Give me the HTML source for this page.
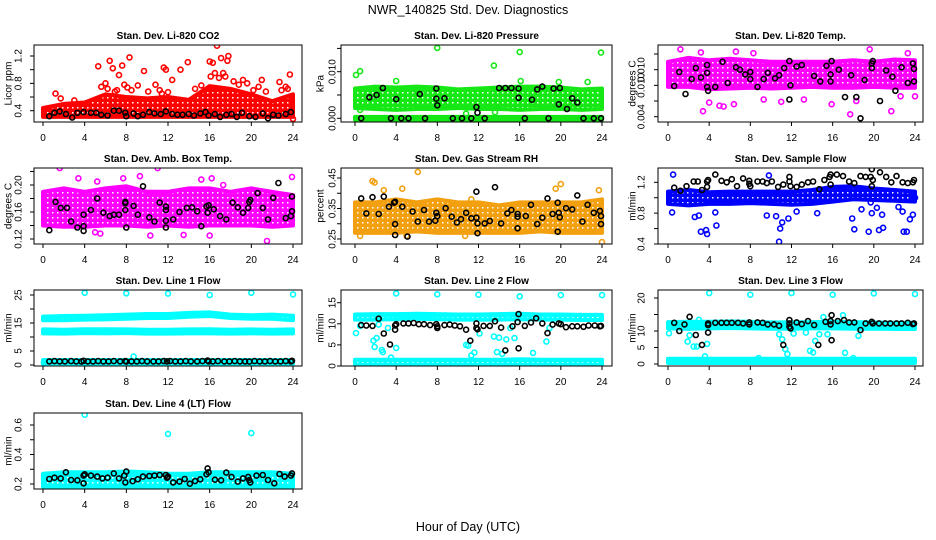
<!DOCTYPE html>
<html><head><meta charset="utf-8"><style>
html,body{margin:0;padding:0;background:#fff;}
svg{display:block;font-family:"Liberation Sans",sans-serif;}
</style></head><body>
<svg id="chart" width="936" height="540" viewBox="0 0 936 540" xmlns="http://www.w3.org/2000/svg">
<defs id="defs"></defs>
<text x="468" y="14" text-anchor="middle" font-size="12.5">NWR_140825  Std. Dev. Diagnostics</text>
<text x="468" y="531" text-anchor="middle" font-size="12.5">Hour of Day (UTC)</text>
</svg>
<script>
const bandHours = [0,2,4,6,8,10,12,14,16,18,20,22,24];
const xTicks = [0,4,8,12,16,20,24];

// CO2
const co2Lo = [0.31,0.31,0.31,0.31,0.31,0.31,0.31,0.31,0.31,0.31,0.31,0.31,0.31];
const co2Hi = [0.44,0.5,0.52,0.64,0.6,0.58,0.6,0.56,0.76,0.72,0.64,0.54,0.64];
const co2OutT = [1.2,1.7,3.0,4.2,5.3,6.0,6.4,6.7,7.3,7.6,8.3,9.7,10.8,11.6,11.8,12.4,13.2,13.9,16.0,16.3,16.5,16.7,17.1,17.3,17.7,17.8,19.2,21.0,22.7,23.7,24.0,5.6,6.2,6.9,7.1,7.8,8.1,8.5,9.1,10.1,11.2,11.4,12.0,14.6,15.2,16.1,16.9,17.5,18.3,18.8,19.6,20.2,20.7,21.4,22.9,23.3,23.5];
const co2OutV = [0.65,0.58,0.55,0.5,1.05,0.8,1.13,1.02,0.92,1.06,1.18,0.98,0.78,1.03,1.0,0.85,1.0,1.11,1.12,1.1,0.95,1.35,1.17,0.95,1.13,1.2,0.85,0.85,0.82,0.93,0.28,0.75,0.72,0.68,0.7,0.78,0.74,0.7,0.77,0.68,0.7,0.65,0.67,0.72,0.77,0.9,0.88,0.9,0.83,0.78,0.8,0.7,0.75,0.68,0.7,0.75,0.72];
const co2BlkT = [0.6,1.1,1.6,2.2,2.8,3.3,3.9,4.6,5.1,5.6,6.2,6.8,7.3,7.9,8.0,8.7,9.1,9.6,10.2,10.7,11.3,11.8,12.4,12.9,13.4,14.0,14.5,15.1,15.6,15.9,16.5,17.0,17.6,18.1,18.6,19.1,19.8,20.4,21.1,21.6,22.1,22.6,23.3,23.8];
const co2BlkV = [0.32,0.37,0.39,0.35,0.3,0.37,0.38,0.37,0.37,0.34,0.33,0.4,0.4,0.37,0.32,0.36,0.32,0.34,0.38,0.36,0.35,0.39,0.35,0.34,0.34,0.35,0.33,0.36,0.38,0.33,0.35,0.31,0.34,0.35,0.31,0.37,0.32,0.31,0.36,0.29,0.34,0.33,0.35,0.38];
const co2YTicks = [0.4,0.6,0.8,1.0,1.2];
const co2YLabels = ['0.4','','0.8','','1.2'];

// Pressure
const presLo = [0.0022,0.002,0.0018,0.002,0.002,0.0022,0.002,0.002,0.0018,0.002,0.002,0.0018,0.002];
const presHi = [0.0064,0.0068,0.0066,0.0068,0.0066,0.0062,0.0064,0.0066,0.0068,0.0068,0.0066,0.0062,0.0064];
const presZeroLo = [-0.0003,-0.0003,-0.0003,-0.0003,-0.0003,-0.0003,-0.0003,-0.0003,-0.0003,-0.0003,-0.0003,-0.0003,-0.0003];
const presZeroHi = [0.0003,0.0003,0.0003,0.0003,0.0003,0.0003,0.0003,0.0003,0.0003,0.0003,0.0003,0.0003,0.0003];
const presOutT = [0.1,0.5,4.0,8.0,13.5,16.0,23.9,16.1,19.8,22.6,0.5,10.8,13.6];
const presOutV = [0.0093,0.0101,0.008,0.0151,0.0113,0.0142,0.0141,0.008,0.0078,0.0078,0.0018,0.001,0.0013];
const presBlkT = [0.6,1.4,2.1,2.7,3.5,4.0,4.5,5.2,6.3,6.8,7.9,7.9,8.0,8.7,9.5,10.4,11.3,11.9,11.8,12.6,14.0,14.6,15.2,15.9,15.9,16.5,17.2,17.7,18.2,18.8,19.3,19.8,19.9,20.6,21.1,21.6,22.2,23.2,23.9];
const presBlkV = [0,0.0045,0.005,0.0065,0,0.0041,0,0,0.0052,0,0.0064,0.0042,0.0028,0.0043,0,0,0,0.0012,0.0024,0,0.0065,0.0065,0.0065,0.0044,0.0064,0,0.004,0.0062,0.0068,0,0.0064,0.003,0.0065,0.002,0.0043,0.0034,0,0,0];
const presYTicks = [0,0.005,0.01,0.015];
const presYLabels = ['0.000','','0.010',''];

// Li-820 Temp
const ltLo = [0.0078,0.0078,0.0075,0.0076,0.0077,0.0076,0.0077,0.0078,0.0077,0.0077,0.0078,0.0077,0.0077];
const ltHi = [0.011,0.0115,0.0112,0.0114,0.0112,0.011,0.011,0.011,0.011,0.0112,0.011,0.0113,0.0112];
const ltOutT = [1.2,3.2,3.4,4.0,5.0,5.4,6.4,6.6,8.3,9.3,11.0,13.2,15.9,17.7,18.3,19.6,21.7,22.6,23.3,24.0];
const ltOutV = [0.0126,0.0122,0.0047,0.0058,0.0054,0.0053,0.0056,0.0123,0.0121,0.0062,0.0059,0.0062,0.0056,0.0043,0.006,0.0126,0.0047,0.0066,0.0121,0.0066];
const ltBlkT = [0.6,1.1,1.7,2.3,2.7,3.2,3.8,3.8,3.9,3.8,4.6,5.3,5.8,6.6,7.0,7.5,8.0,8.0,8.7,9.3,9.7,10.4,10.8,11.3,11.8,11.9,11.8,12.5,13.0,14.2,14.8,15.4,15.8,15.8,15.9,16.6,17.2,17.8,18.3,18.7,19.1,19.8,19.9,19.8,20.6,21.2,21.8,22.1,22.7,23.3,23.8,23.9,23.9];
const ltBlkV = [0.0079,0.0097,0.0069,0.0088,0.0102,0.009,0.0096,0.0106,0.0073,0.0078,0.0078,0.011,0.0083,0.0103,0.01,0.0094,0.0097,0.0088,0.0078,0.0088,0.0096,0.0089,0.0093,0.0102,0.0062,0.008,0.0111,0.0104,0.0106,0.0092,0.0085,0.0105,0.0094,0.0085,0.0111,0.01,0.0065,0.0093,0.0065,0.0038,0.0087,0.0102,0.0111,0.0108,0.006,0.0099,0.0091,0.0073,0.0103,0.0083,0.0108,0.0101,0.0085];
const ltYTicks = [0.004,0.006,0.008,0.01,0.012];
const ltYLabels = ['0.004','','0.010','0.010',''];

// Amb box temp
const abLo = [0.14,0.138,0.138,0.14,0.14,0.138,0.14,0.138,0.14,0.14,0.14,0.138,0.14];
const abHi = [0.19,0.195,0.19,0.195,0.198,0.19,0.19,0.195,0.195,0.19,0.195,0.19,0.185];
const abOutT = [1.6,3.4,5.0,5.2,5.5,7.7,9.3,10.3,11.0,13.5,15.2,16.0,16.2,17.3,21.5,23.9];
const abOutV = [0.225,0.21,0.13,0.205,0.128,0.21,0.213,0.125,0.225,0.126,0.208,0.125,0.21,0.2,0.117,0.212];
const abBlkT = [0.6,1.2,1.7,2.3,2.7,3.3,3.9,3.9,3.9,4.6,5.2,5.8,6.4,6.8,7.3,7.9,7.9,7.9,8.0,8.7,9.1,9.6,10.2,10.7,11.2,11.8,11.8,11.8,11.8,12.5,13.1,13.8,14.3,14.8,15.2,15.7,15.8,15.9,16.4,17.0,17.6,18.2,18.7,19.2,19.7,19.8,19.9,20.6,21.1,21.6,22.1,22.6,23.3,23.9,23.9,23.8];
const abBlkV = [0.133,0.175,0.166,0.166,0.146,0.137,0.132,0.156,0.139,0.163,0.18,0.159,0.154,0.156,0.156,0.173,0.175,0.163,0.137,0.169,0.156,0.198,0.152,0.146,0.174,0.168,0.147,0.137,0.163,0.149,0.16,0.166,0.167,0.161,0.139,0.168,0.159,0.17,0.164,0.154,0.149,0.174,0.167,0.159,0.166,0.175,0.178,0.188,0.166,0.149,0.181,0.203,0.151,0.183,0.161,0.154];
const abYTicks = [0.12,0.14,0.16,0.18,0.2,0.22];
const abYLabels = ['0.12','','0.16','','0.20',''];

// Gas stream RH
const rhLo = [0.27,0.27,0.27,0.275,0.27,0.27,0.27,0.27,0.27,0.275,0.27,0.27,0.27];
const rhHi = [0.37,0.37,0.38,0.37,0.38,0.37,0.37,0.36,0.37,0.37,0.37,0.37,0.38];
const rhOutT = [0.5,1.7,1.9,2.8,4.6,5.0,6.1,10.7,11.3,19.5,20.0,23.7,24.0];
const rhOutV = [0.26,0.44,0.435,0.41,0.415,0.26,0.47,0.26,0.38,0.415,0.43,0.41,0.24];
const rhBlkT = [0.6,1.1,1.7,2.3,2.8,3.3,3.8,3.9,3.9,3.9,4.6,5.1,5.6,6.1,6.7,7.2,7.8,7.9,8.0,8.8,9.4,9.9,10.3,10.8,11.3,11.8,11.8,11.9,11.9,12.6,13.1,13.6,14.2,14.8,15.2,15.8,15.8,15.8,16.6,17.1,17.7,18.2,18.7,19.2,19.7,19.7,19.8,19.9,20.5,21.1,21.6,22.1,22.6,23.2,23.8,23.9,23.9];
const rhBlkV = [0.383,0.334,0.387,0.332,0.389,0.356,0.369,0.372,0.299,0.263,0.356,0.258,0.34,0.307,0.345,0.307,0.31,0.336,0.325,0.351,0.323,0.304,0.315,0.336,0.318,0.32,0.405,0.301,0.269,0.301,0.309,0.42,0.301,0.334,0.345,0.323,0.332,0.285,0.325,0.362,0.299,0.32,0.383,0.332,0.274,0.369,0.336,0.321,0.351,0.347,0.393,0.307,0.362,0.336,0.342,0.325,0.299];
const rhYTicks = [0.25,0.3,0.35,0.4,0.45];
const rhYLabels = ['0.25','','0.35','','0.45'];

// Sample flow
const sfLo = [0.92,0.9,0.92,0.92,0.93,0.92,0.91,0.92,0.95,0.98,0.97,0.96,0.95];
const sfHi = [1.08,1.1,1.07,1.08,1.08,1.08,1.08,1.1,1.14,1.15,1.12,1.1,1.08];
const sfOutT = [0.5,0.4,2.6,3.0,3.2,3.7,3.8,4.6,4.7,9.6,9.8,10.5,10.9,10.8,11.1,11.7,12.5,14.5,17.9,18.1,18.8,19.5,19.7,19.8,20.3,20.5,20.9,20.8,22.4,22.8,22.9,23.2,23.5,23.8,24.0];
const sfOutV = [1.3,0.81,0.75,0.77,0.56,0.58,0.53,0.81,0.64,0.77,1.29,0.76,0.6,0.43,0.68,0.73,0.82,0.8,0.73,0.59,0.85,0.56,0.94,0.8,0.87,0.58,0.61,0.78,0.88,0.82,0.56,0.56,0.72,0.78,1.0];
const sfBlkT = [0.6,1.2,1.8,2.5,2.9,3.3,3.8,3.8,3.9,4.6,5.2,5.7,6.2,6.7,7.3,7.9,7.9,8.0,8.7,9.2,9.6,10.1,10.7,11.2,11.8,11.8,11.9,12.5,13.0,13.6,14.1,14.7,15.2,15.7,15.8,15.8,16.4,17.0,17.6,18.1,18.7,19.2,19.7,19.8,19.8,19.9,20.6,21.2,21.7,22.2,22.8,23.3,23.8,23.9];
const sfBlkV = [1.13,1.09,1.15,1.21,1.21,1.1,1.14,1.21,1.23,1.3,1.22,1.2,1.24,1.15,1.25,1.22,1.18,1.15,1.21,1.21,1.19,1.21,1.14,1.17,1.27,1.21,1.15,1.14,1.17,1.2,1.21,1.11,1.23,1.27,1.3,1.17,1.3,1.28,1.21,1.19,1.28,1.27,1.27,1.37,1.15,1.23,1.33,1.27,1.2,1.28,1.2,1.19,1.2,1.23];
const sfYTicks = [0.4,0.6,0.8,1.0,1.2];
const sfYLabels = ['0.4','','0.8','','1.2'];

// Line 1 flow
const l1aLo = [16,16,16.2,16.3,16.5,16.8,16.8,17.2,17.5,16.8,16.5,16.5,16];
const l1aHi = [17.3,17.5,17.6,17.8,18,18.2,18.2,18.6,18.8,18,17.8,18,17.6];
const l1bLo = [11.3,11.2,11.4,11.3,11.4,11.2,11.2,11.3,11.3,11.2,11.3,11.2,11.3];
const l1bHi = [12.7,12.6,12.8,12.8,12.7,12.6,12.6,12.7,12.8,12.6,12.7,12.6,12.7];
const l1cLo = [0.4,0.4,0.4,0.4,0.4,0.4,0.4,0.4,0.4,0.4,0.4,0.4,0.4];
const l1cHi = [1.8,1.8,1.8,1.8,1.8,1.8,1.8,1.8,1.8,1.8,1.8,1.8,1.8];
const l1OutT = [4,8,12,16,20,24,8.7,0.1,11,20.6,22.9];
const l1OutV = [25.8,25.6,25.5,25,25.8,25.2,3,1,0,0.2,0.2];
const l1BlkT = [0.6,1.1,1.6,2.1,2.7,3.2,3.7,3.9,4.3,4.8,5.3,5.8,6.3,6.8,7.4,7.9,8.0,8.5,9.0,9.5,10.0,10.6,11.1,11.6,11.9,12.2,12.7,13.2,13.7,14.2,14.8,15.3,15.8,15.9,16.3,16.8,17.4,17.9,18.4,18.9,19.4,19.8,20.3,20.8,21.3,21.8,22.3,22.8,23.3,23.8,23.9];
const l1BlkV = [1.3,1.4,1.3,1.3,1.4,1.3,1.2,1.5,1.3,1.3,1.4,1.3,1.3,1.4,1.3,1.4,1.2,1.3,1.3,1.4,1.3,1.3,1.3,1.4,1.3,1.4,1.3,1.3,1.4,1.3,1.3,1.4,1.6,1.3,1.3,1.4,1.3,1.3,1.4,1.3,1.3,1.2,1.4,1.3,1.3,1.4,1.3,1.3,1.4,1.3,1.5];
const l1YTicks = [0,5,10,15,20,25];
const l1YLabels = ['0','5','','15','','25'];

// Line 2 flow
const l2aLo = [11,11,11.1,11.2,11.1,11,11,11,11.1,11,11,10.9,10.9];
const l2aHi = [12.2,12.3,12.3,12.4,12.3,12.2,12.2,12.3,12.4,12.2,12.2,12.1,12.1];
const l2bLo = [0.3,0.3,0.3,0.3,0.3,0.3,0.3,0.3,0.3,0.3,0.3,0.3,0.3];
const l2bHi = [1.5,1.5,1.5,1.5,1.5,1.5,1.5,1.5,1.6,1.5,1.5,1.5,1.5];
const l2OutT = [4,8,12,16,20,24,0.1,1.8,1.9,2.1,2.6,2.7,3.5,4.0,10.8,11.0,11.3,11.6,12.1,13.5,13.8,14.0,14.3,14.7,15.5,17.3,18.6,0.5,2.3,3.2,15.1,18.9];
const l2OutV = [17.2,17,16.9,16.5,16.8,16.8,7.8,6,4.5,6.6,3.8,3.3,2,4.3,5,4.8,2.5,3.2,7.7,7,3.3,6.7,2.9,6.3,6.6,3.1,5.8,9.5,9.8,9,9,9];
const l2BlkT = [0.6,1.1,1.7,2.3,2.8,3.4,3.9,3.9,4.0,4.7,5.2,5.7,6.2,6.7,7.3,7.9,8.0,8.0,8.7,9.2,9.7,10.2,10.8,11.2,11.8,11.8,11.9,12.5,13.1,13.6,14.2,14.6,15.3,15.8,15.9,15.9,16.5,17.1,17.6,18.2,18.7,19.2,19.8,20.0,20.5,21.1,21.6,22.2,22.7,23.3,23.8,23.9];
const l2BlkV = [9.7,9.6,9.5,11.2,7.7,5.1,8.6,9.6,9.9,10.1,10.1,10.2,9.9,9.9,9.7,9.9,9.0,9.4,9.7,9.8,9.6,9.4,8.6,6.0,10.1,9.0,8.7,9.5,9.5,10.6,9.1,3.7,9.4,10.4,12.3,4.2,9.5,10.3,11.3,10.1,7.8,9.8,10.1,9.9,9.2,9.4,9.4,9.3,9.6,9.6,9.4,9.5];
const l2YTicks = [0,5,10,15];
const l2YLabels = ['0','5','10','15'];

// Line 3 flow
const l3aLo = [10.8,10.7,10.8,10.9,10.8,10.7,10.7,10.8,10.8,10.7,10.7,10.6,10.6];
const l3aHi = [12.7,12.8,12.8,12.9,12.8,12.6,12.6,12.7,12.8,12.7,12.6,12.5,12.5];
const l3bLo = [0.3,0.3,0.3,0.3,0.3,0.3,0.3,0.3,0.3,0.3,0.3,0.3,0.3];
const l3bHi = [1.6,1.6,1.6,1.6,1.6,1.6,1.6,1.6,1.6,1.6,1.6,1.6,1.6];
const l3OutT = [4,8,12,16,20,24,0.1,1.9,2.1,2.5,2.8,3.6,3.8,10.8,11.1,11.4,11.6,12.2,13.4,13.8,14.1,14.3,14.7,15.1,15.5,17.0,17.2,18.5,3.0,2.0,18.0,8.8];
const l3OutV = [21.5,21,21.5,21,21.4,21.2,9.3,6.8,8.7,5.3,5.3,2.3,6.1,9,7.5,4.5,3,9.2,9.5,4,3.5,7,9,14.2,9,14.8,3.4,8.5,13.4,11,1.8,1.8];
const l3BlkT = [0.6,1.1,1.6,2.1,2.7,3.3,3.9,3.9,3.9,4.6,5.2,5.7,6.2,6.8,7.3,7.9,7.9,8.7,9.2,9.7,10.3,10.8,11.2,11.8,11.8,11.8,11.9,12.5,13.0,13.6,14.2,14.6,15.3,15.8,15.8,15.9,15.9,16.5,17.1,17.6,18.1,18.7,19.2,19.8,19.9,20.5,21.1,21.6,22.2,22.7,23.3,23.8,23.9];
const l3BlkV = [12.5,10,12,14.3,8.8,5.8,12.3,11.8,9.5,12.5,12.5,12.5,12.5,12.5,12.3,12,12.6,12.6,12.5,12,12,11.6,5.8,13.3,11.3,12.3,10.8,12.6,12.1,13,11.8,5.8,12.8,13,12,14.8,7.2,13,13.3,12.6,12.6,10.3,12.3,12.8,12.3,12.3,12.3,12.3,12.3,12.3,12.5,12.1,12.3];
const l3YTicks = [0,5,10,15,20];
const l3YLabels = ['0','5','10','','20'];

// Line 4 flow
const l4Lo = [0.18,0.18,0.18,0.18,0.18,0.18,0.18,0.18,0.18,0.18,0.18,0.18,0.18];
const l4Hi = [0.27,0.28,0.28,0.28,0.285,0.28,0.27,0.27,0.28,0.28,0.28,0.28,0.27];
const l4OutT = [4,12,20,3,15,23.7,0.5];
const l4OutV = [0.67,0.54,0.545,0.16,0.16,0.17,0.17];
const l4BlkT = [0.6,1.1,1.7,2.2,2.7,3.3,3.9,3.9,4.0,4.6,5.2,5.7,6.2,6.8,7.3,7.8,7.9,8.0,8.6,9.1,9.6,10.2,10.7,11.2,11.8,11.9,12.0,12.5,13.1,13.6,14.1,14.6,15.1,15.7,15.8,15.9,16.5,17.1,17.6,18.1,18.7,19.2,19.7,19.8,19.9,20.5,21.1,21.6,22.2,22.7,23.2,23.8,23.9];
const l4BlkV = [0.234,0.243,0.238,0.279,0.227,0.225,0.205,0.257,0.266,0.257,0.25,0.238,0.243,0.272,0.238,0.257,0.211,0.284,0.22,0.232,0.25,0.254,0.257,0.261,0.261,0.243,0.25,0.211,0.216,0.234,0.202,0.22,0.232,0.266,0.306,0.279,0.229,0.225,0.277,0.248,0.216,0.238,0.248,0.227,0.211,0.257,0.261,0.227,0.205,0.268,0.25,0.257,0.272];
const l4YTicks = [0.2,0.3,0.4,0.5,0.6];
const l4YLabels = ['0.2','','0.4','','0.6'];

// ---------- layout ----------
const cols = [{x0:43,x1:293,bl:34,br:302,tl:18,yl:8},{x0:355,x1:602,bl:341,br:612,tl:332,yl:320},{x0:668,x1:915,bl:658,br:923,tl:641,yl:632}];
const rows = [{t:45,b:122},{t:168,b:244},{t:290,b:366},{t:413,b:489}];
const panels = [
 {key:'co2',title:'Stan. Dev. Li-820 CO2',ylab:'Licor ppm',c:0,r:0,v0:0.4,p0:110.7,v1:1.2,p1:56,color:'#ff0000',bands:[[co2Lo,co2Hi]],oT:co2OutT,oV:co2OutV,bT:co2BlkT,bV:co2BlkV,yt:co2YTicks,yl:co2YLabels},
 {key:'pressure',title:'Stan. Dev. Li-820 Pressure',ylab:'kPa',c:1,r:0,v0:0,p0:118.3,v1:0.01,p1:71.7,color:'#16e816',bands:[[presLo,presHi],[presZeroLo,presZeroHi]],oT:presOutT,oV:presOutV,bT:presBlkT,bV:presBlkV,yt:presYTicks,yl:presYLabels},
 {key:'li820-temp',title:'Stan. Dev. Li-820 Temp.',ylab:'degrees C',c:2,r:0,v0:0.004,p0:116.7,v1:0.012,p1:54,color:'#ff00ff',bands:[[ltLo,ltHi]],oT:ltOutT,oV:ltOutV,bT:ltBlkT,bV:ltBlkV,yt:ltYTicks,yl:ltYLabels},
 {key:'amb-box-temp',title:'Stan. Dev. Amb. Box Temp.',ylab:'degrees C',c:0,r:1,v0:0.12,p0:239,v1:0.2,p1:185,color:'#ff00ff',bands:[[abLo,abHi]],oT:abOutT,oV:abOutV,bT:abBlkT,bV:abBlkV,yt:abYTicks,yl:abYLabels},
 {key:'gas-rh',title:'Stan. Dev. Gas Stream RH',ylab:'percent',c:1,r:1,v0:0.25,p0:239,v1:0.45,p1:178,color:'#f3a010',bands:[[rhLo,rhHi]],oT:rhOutT,oV:rhOutV,bT:rhBlkT,bV:rhBlkV,yt:rhYTicks,yl:rhYLabels},
 {key:'sample-flow',title:'Stan. Dev. Sample Flow',ylab:'ml/min',c:2,r:1,v0:0.4,p0:244,v1:1.2,p1:182.3,color:'#0000ff',bands:[[sfLo,sfHi]],oT:sfOutT,oV:sfOutV,bT:sfBlkT,bV:sfBlkV,yt:sfYTicks,yl:sfYLabels},
 {key:'line1-flow',title:'Stan. Dev. Line 1 Flow',ylab:'ml/min',c:0,r:2,v0:0,p0:365,v1:25,p1:295,color:'#00ffff',bands:[[l1aLo,l1aHi],[l1bLo,l1bHi],[l1cLo,l1cHi]],oT:l1OutT,oV:l1OutV,bT:l1BlkT,bV:l1BlkV,yt:l1YTicks,yl:l1YLabels},
 {key:'line2-flow',title:'Stan. Dev. Line 2 Flow',ylab:'ml/min',c:1,r:2,v0:0,p0:366,v1:15,p1:302.7,color:'#00ffff',bands:[[l2aLo,l2aHi],[l2bLo,l2bHi]],oT:l2OutT,oV:l2OutV,bT:l2BlkT,bV:l2BlkV,yt:l2YTicks,yl:l2YLabels},
 {key:'line3-flow',title:'Stan. Dev. Line 3 Flow',ylab:'ml/min',c:2,r:2,v0:0,p0:364,v1:20,p1:298,color:'#00ffff',bands:[[l3aLo,l3aHi],[l3bLo,l3bHi]],oT:l3OutT,oV:l3OutV,bT:l3BlkT,bV:l3BlkV,yt:l3YTicks,yl:l3YLabels},
 {key:'line4-flow',title:'Stan. Dev. Line 4 (LT) Flow',ylab:'ml/min',c:0,r:3,v0:0.2,p0:484,v1:0.6,p1:425,color:'#00ffff',bands:[[l4Lo,l4Hi]],oT:l4OutT,oV:l4OutV,bT:l4BlkT,bV:l4BlkV,yt:l4YTicks,yl:l4YLabels}
];

const NS = 'http://www.w3.org/2000/svg';
const svg = document.getElementById('chart');
const defs = document.getElementById('defs');
function mk(tag, attrs, parent){ const e=document.createElementNS(NS,tag); for(const k in attrs) e.setAttribute(k,attrs[k]); (parent||svg).appendChild(e); return e; }

panels.forEach(function(p){
  const C = cols[p.c], R = rows[p.r];
  const xs = function(h){ return C.x0 + (h/24)*(C.x1-C.x0); };
  const ys = function(v){ return p.p0 + (v-p.v0)/(p.v1-p.v0)*(p.p1-p.p0); };
  const g = mk('g',{});
  
  

  const cp = mk('clipPath',{id:'clip-'+p.key}, defs);
  mk('rect',{x:C.bl,y:R.t,width:C.br-C.bl,height:R.b-R.t}, cp);
  const pat = mk('pattern',{id:'pat-'+p.key,width:5,height:5,patternUnits:'userSpaceOnUse'}, defs);
  mk('rect',{x:0,y:0,width:5,height:5,fill:p.color}, pat);
  mk('rect',{x:2,y:2,width:1.5,height:1.5,fill:'#ffffff'}, pat);

  const plot = mk('g',{'clip-path':'url(#clip-'+p.key+')'}, g);
  p.bands.forEach(function(b, bi){
    let d = '';
    bandHours.forEach(function(h,i){ d += (i?'L':'M') + xs(h).toFixed(1) + ' ' + ys(b[0][i]).toFixed(1); });
    for(let i=bandHours.length-1;i>=0;i--){ d += 'L' + xs(bandHours[i]).toFixed(1) + ' ' + ys(b[1][i]).toFixed(1); }
    d += 'Z';
    const band = mk('path',{d:d,fill:'url(#pat-'+p.key+')',stroke:p.color,'stroke-width':4,'stroke-linejoin':'round'}, plot);
    
    
  });
  const n1 = Math.min(p.oT.length, p.oV.length);
  for(let i=0;i<n1;i++){
    const c = mk('circle',{cx:xs(p.oT[i]).toFixed(1),cy:ys(p.oV[i]).toFixed(1),r:2.5,fill:'none',stroke:p.color,'stroke-width':1.6}, plot);
    
    
  }
  const n2 = Math.min(p.bT.length, p.bV.length);
  for(let i=0;i<n2;i++){
    const c = mk('circle',{cx:xs(p.bT[i]).toFixed(1),cy:ys(p.bV[i]).toFixed(1),r:2.5,fill:'none',stroke:'#000000','stroke-width':1.6}, plot);
    
    
  }

  const box = mk('rect',{x:C.bl,y:R.t,width:C.br-C.bl,height:R.b-R.t,fill:'none',stroke:'#000','stroke-width':1}, g);
  
  

  xTicks.forEach(function(t){
    const x = xs(t);
    mk('line',{x1:x,y1:R.b,x2:x,y2:R.b+4,stroke:'#000','stroke-width':1}, g);
    const tx = mk('text',{x:x,y:R.b+19,'text-anchor':'middle','font-size':10}, g);
    tx.textContent = String(t);
    
    
  });
  p.yt.forEach(function(t,i){
    const y = ys(t);
    mk('line',{x1:C.bl-4,y1:y,x2:C.bl,y2:y,stroke:'#000','stroke-width':1}, g);
    if(p.yl[i]){
      const tx = mk('text',{x:0,y:0,'text-anchor':'middle','font-size':10,transform:'translate('+(C.tl+3.5)+','+y.toFixed(1)+') rotate(-90)'}, g);
      tx.textContent = p.yl[i];
      
      
    }
  });
  const title = mk('text',{x:(C.bl+C.br)/2,y:R.t-6,'text-anchor':'middle','font-size':10,'font-weight':'bold'}, g);
  title.textContent = p.title;
  
  
  const yl = mk('text',{x:0,y:0,'text-anchor':'middle','font-size':10,transform:'translate('+(C.yl+3.5)+','+((R.t+R.b)/2)+') rotate(-90)'}, g);
  yl.textContent = p.ylab;
  
  
});
</script>
</body></html>
